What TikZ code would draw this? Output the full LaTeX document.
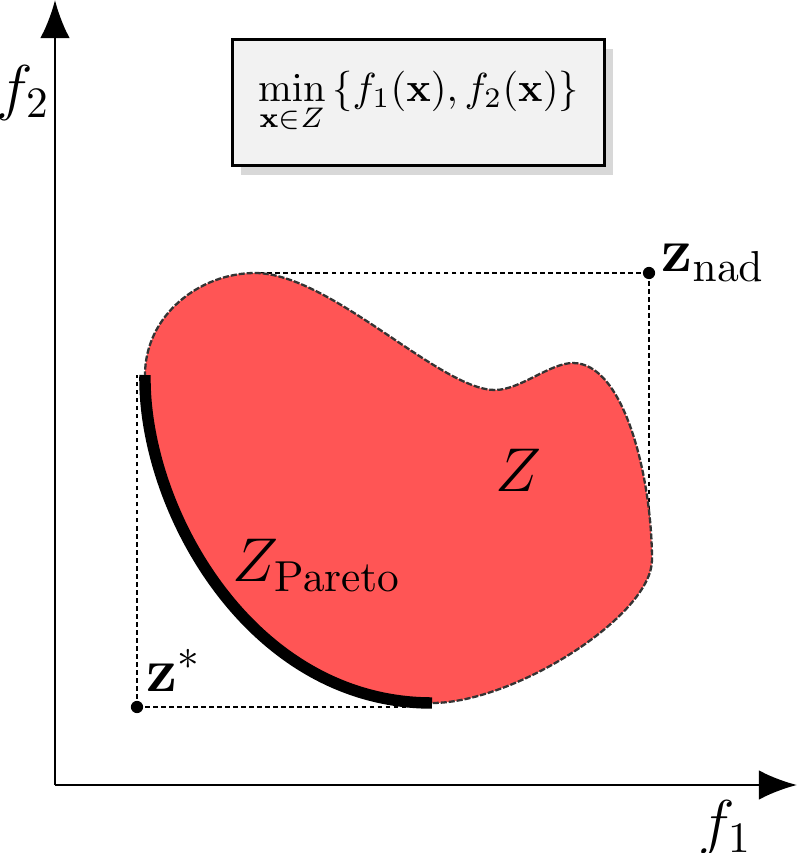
\RequirePackage{fix-cm}
\documentclass[tikz,border=0pt]{standalone}
\usepackage{xcolor}
\usepackage{tikz}
\usetikzlibrary{arrows.meta,shadows}

\begin{document}
\begin{tikzpicture}[scale=0.92]

% Colori
\definecolor{colRegione}{HTML}{FF5555}
\definecolor{colBordo}{HTML}{333333}
\definecolor{colRiquadro}{HTML}{F2F2F2}
\definecolor{colOmbra}{HTML}{D8D8D8}

\tikzset{
  asse/.style={line width=0.7pt, -{Latex[length=10pt,width=7.8pt]}},
  guida/.style={line width=0.75pt, dash pattern=on 1.2pt off 0.9pt},
  punto/.style={circle, fill=black, inner sep=0pt, minimum size=3.2pt},
  etichetta/.style={font=\fontsize{16.2}{19}\selectfont, inner sep=0pt}
}

\useasboundingbox (0,0) rectangle (8,8.53);

% Assi
\coordinate (O) at (0.55,0.68);
\coordinate (xtip) at (7.97,0.68);
\coordinate (ytip) at (0.55,8.53);
\draw[asse] (O) -- (xtip);
\draw[asse] (O) -- (ytip);
\node[etichetta] (f1) at (7.25,0.25) {$f_1$};
\node[etichetta] (f2) at (0.23,7.60) {$f_2$};

% Problema
\node[draw=black, line width=0.7pt, fill=colRiquadro,
      minimum width=3.42cm, minimum height=1.16cm,
      font=\fontsize{10.6}{13}\selectfont,
      drop shadow={shadow xshift=0.075cm, shadow yshift=-0.09cm, fill=colOmbra, opacity=1}]
  (problema) at (4.185,7.505)
  {$\displaystyle\min_{\mathbf{x}\in Z}\,\{f_1(\mathbf{x}), f_2(\mathbf{x})\}$};

% Punti del bordo della regione
\coordinate (pA) at (1.45,4.78);
\coordinate (pB) at (4.32,1.50);
\coordinate (R) at (6.52,2.93);
\coordinate (bump) at (5.73,4.90);
\coordinate (dip) at (4.95,4.63);
\coordinate (top) at (2.55,5.80);

% Punto ideale e punto nadir
\node[punto] (zstar) at (1.37,1.46) {};
\node[punto] (znad) at (6.49,5.80) {};

% Linee tratteggiate
\draw[guida] (zstar.center) -- (zstar |- pA);
\draw[guida] (zstar.center) -- (pB |- zstar);
\draw[guida] (znad.center) -- (top |- znad);
\draw[guida] (znad.center) -- (znad |- R);

% Regione Z
\path[fill=colRegione, draw=colBordo, line width=0.6pt, dash pattern=on 1.6pt off 0.5pt]
  (pA) .. controls (1.43,3.45) and (2.50,1.50) .. (pB)
  .. controls (5.15,1.50) and (6.52,2.38) .. (R)
  .. controls (6.52,3.73) and (6.25,4.90) .. (bump)
  .. controls (5.50,4.90) and (5.20,4.63) .. (dip)
  .. controls (4.40,4.63) and (3.30,5.80) .. (top)
  .. controls (2.00,5.80) and (1.45,5.38) .. (pA) -- cycle;

% Fronte di Pareto
\draw[line width=3pt] (pA) .. controls (1.43,3.45) and (2.50,1.50) .. (pB);

% Etichette
\node[etichetta] (Zlab) at (5.18,3.83) {$Z$};
\node[etichetta, anchor=base west] (Zpar) at (2.32,2.71) {$Z_{\mathrm{Pareto}}$};
\node[etichetta, anchor=base west] (zstarlab) at (1.46,1.61) {$\mathbf{z}^*$};
\node[etichetta, anchor=base west] (znadlab) at (6.61,5.81) {$\mathbf{z}_{\mathrm{nad}}$};

\end{tikzpicture}
\end{document}
